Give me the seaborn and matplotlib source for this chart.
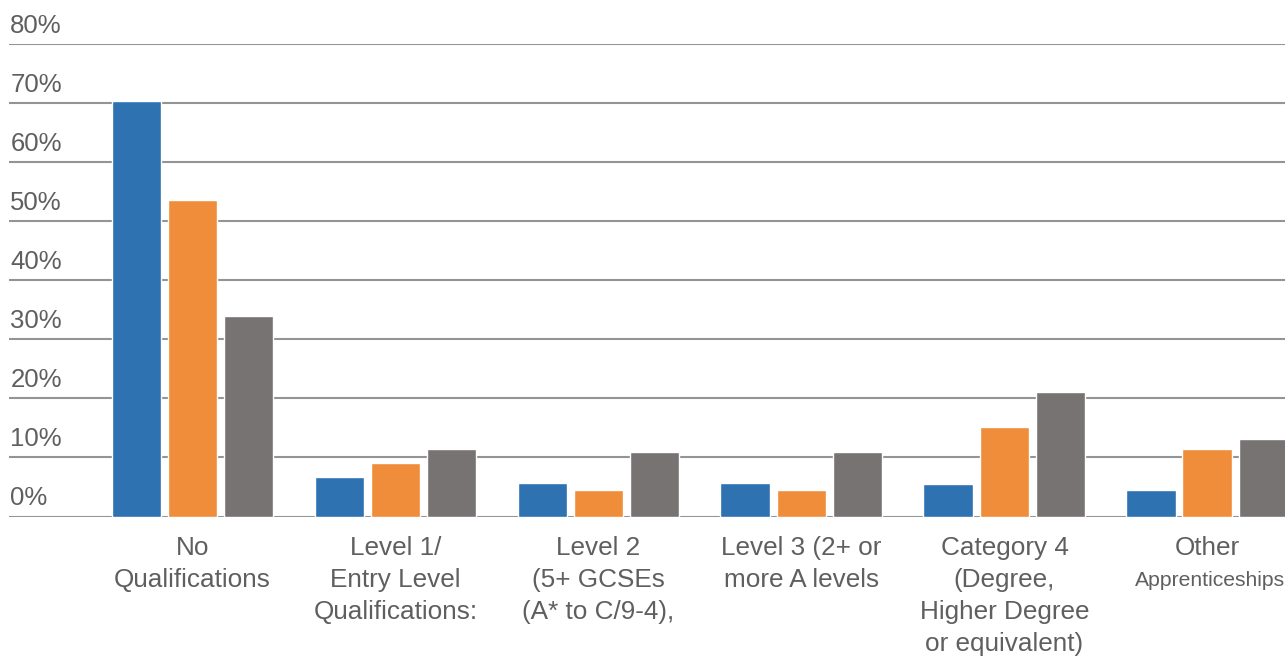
import matplotlib
matplotlib.use("Agg")
import matplotlib.pyplot as plt
import matplotlib.transforms as mtransforms
import pandas as pd
import seaborn as sns

# Qualification categories and share of each group (percent)
categories = [
    "No\nQualifications",
    "Level 1/\nEntry Level\nQualifications:",
    "Level 2\n(5+ GCSEs\n(A* to C/9-4),",
    "Level 3 (2+ or\nmore A levels",
    "Category 4\n(Degree,\nHigher Degree\nor equivalent)",
    "Other\nApprenticeships",
]
series_names = ["Series 1", "Series 2", "Series 3"]
series_1 = [70.3, 6.7, 5.6, 5.6, 5.5, 4.5]
series_2 = [53.6, 9.0, 4.5, 4.5, 15.1, 11.4]
series_3 = [33.9, 11.4, 10.9, 10.9, 21.1, 13.1]
y_ticks = [0, 10, 20, 30, 40, 50, 60, 70, 80]

colors = ["#2E72B2", "#F08D3A", "#777372"]
text_color = "#5f5f5f"
grid_color = "#949494"

sns.set_theme(style="white")
plt.rcParams["font.family"] = ["Liberation Sans", "DejaVu Sans"]

df = pd.DataFrame({
    "category": categories * 3,
    "series": [s for s in series_names for _ in categories],
    "value": series_1 + series_2 + series_3,
})

fig = plt.figure(figsize=(12.85, 6.57), dpi=100)
ax = fig.add_axes([9 / 1285, 1 - 516.5 / 657, 1 - 9 / 1285, (516.5 - 43.7) / 657])

sns.barplot(
    data=df, x="category", y="value", hue="series",
    palette=colors, width=0.828, gap=0.109, saturation=1,
    legend=False, ax=ax, errorbar=None, zorder=3,
)

ax.set_xlim(-0.904, 5.382)
ax.set_ylim(0, 80)
ax.set_yticks(y_ticks)
ax.set_yticklabels([])
ax.tick_params(axis="both", length=0)
ax.set_axisbelow(True)
ax.yaxis.grid(True, color=grid_color, linewidth=1.5)
ax.xaxis.grid(False)
for sp in ax.spines.values():
    sp.set_visible(False)
ax.set_xlabel("")
ax.set_ylabel("")

# Y labels sit just above their gridlines, flush with the left edge
trans = mtransforms.blended_transform_factory(ax.transAxes, ax.transData)
offset = mtransforms.offset_copy(trans, fig=fig, x=0, y=8, units="points")
for t in y_ticks:
    ax.text(0.001, t, f"{t}%", transform=offset, ha="left", va="baseline",
            fontsize=18.5, color=text_color, clip_on=False)

# Category labels; the long word of the last one is set in a smaller size
label_size = 18.8
line_spacing = 1.42
first, rest = categories[-1].split("\n", 1)
tick_texts = categories[:-1] + [first]
ax.set_xticks(range(len(categories)))
ax.set_xticklabels(tick_texts)
ax.tick_params(axis="x", pad=14)
for lbl in ax.get_xticklabels():
    lbl.set_color(text_color)
    lbl.set_fontsize(label_size)
    lbl.set_linespacing(line_spacing)

xtrans = mtransforms.blended_transform_factory(ax.transData, ax.transAxes)
ax.annotate(rest, xy=(len(categories) - 1, 0), xycoords=xtrans,
            xytext=(1.5, -14 - 25), textcoords="offset points",
            ha="center", va="top", fontsize=15.2, color=text_color,
            annotation_clip=False)

fig.savefig("out.png", dpi=100)
